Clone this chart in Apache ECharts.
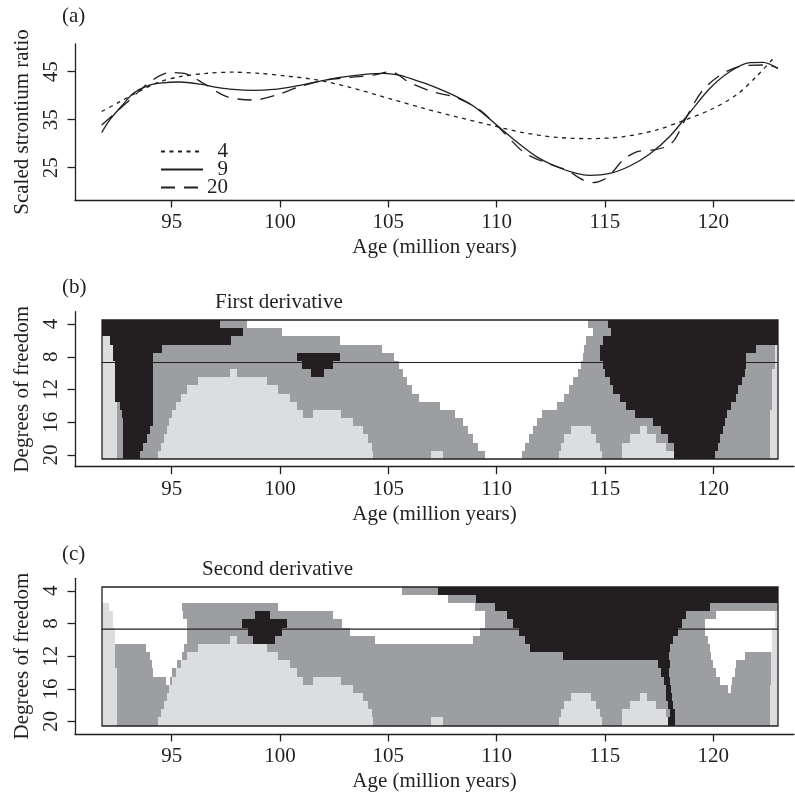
<!DOCTYPE html>
<html>
<head>
<meta charset="utf-8">
<script src="https://cdn.jsdelivr.net/npm/echarts@6/dist/echarts.min.js"></script>
<style>
html, body { margin: 0; padding: 0; background: #fff; }
#chart { width: 795px; height: 793px; }
</style>
</head>
<body>
<div id="chart"></div>
<script>
// axis ticks
var ageTicks = [95, 100, 105, 110, 115, 120];
var ratioTicks = [25, 35, 45];
var dfTicks = [4, 8, 12, 16, 20];
var dfRows = [4, 5, 6, 7, 8, 9, 10, 11, 12, 13, 14, 15, 16, 17, 18, 19, 20];
var chosenDf = 8.7;
var ageStart = 91.77, ageEnd = 122.99;

// panel (a): fits with 4, 9 and 20 degrees of freedom
var df4Age = [91.77, 92.61, 93.54, 94.46, 95.38, 96.61, 97.84, 99.07, 100.3, 101.69, 103.23, 105.2, 106.61, 108.15, 109.69, 111.23, 112.77, 114.3, 115.84, 117.38, 118.61, 119.84, 121.07, 121.99, 122.84];
var df4Ratio = [36.7, 38.75, 41.0, 42.9, 43.96, 44.65, 44.9, 44.65, 44.1, 43.3, 41.75, 39.2, 37.4, 35.6, 33.9, 32.3, 31.33, 31.05, 31.45, 32.85, 34.8, 37.0, 40.15, 43.96, 48.1];

var df9Age = [91.77, 92.15, 92.69, 93.23, 93.85, 94.46, 95.38, 96.31, 97.08, 97.84, 98.77, 99.69, 100.6, 101.69, 102.77, 104.0, 104.77, 105.5, 106.0, 106.92, 108.15, 109.07, 110.0, 110.92, 111.84, 112.77, 113.69, 114.3, 115.23, 116.15, 117.07, 117.99, 118.92, 119.84, 120.76, 121.69, 122.3, 122.99];
var df9Ratio = [32.3, 35.0, 37.85, 40.5, 42.0, 42.6, 42.85, 42.4, 41.75, 41.3, 41.1, 41.3, 41.9, 42.9, 43.8, 44.5, 44.65, 44.3, 43.6, 42.2, 39.8, 37.4, 33.9, 30.4, 27.3, 25.2, 23.8, 23.4, 23.8, 25.35, 27.85, 31.5, 36.5, 41.5, 45.0, 46.9, 46.95, 45.7];

var df20Age = [91.77, 92.46, 93.23, 94.0, 94.92, 95.69, 96.46, 97.54, 98.77, 99.85, 100.92, 102.15, 103.23, 104.3, 105.1, 106.0, 107.07, 108.15, 109.23, 110.3, 111.23, 112.15, 113.23, 113.99, 114.46, 114.92, 115.3, 115.84, 116.46, 117.23, 117.84, 118.23, 118.77, 119.53, 120.45, 121.38, 122.46, 122.99];
var df20Ratio = [33.9, 36.67, 39.8, 42.9, 44.8, 44.5, 42.6, 39.8, 39.1, 40.15, 41.9, 43.3, 43.8, 44.3, 45.0, 42.7, 40.8, 39.6, 37.0, 32.5, 28.3, 26.25, 24.5, 22.45, 21.9, 22.45, 23.8, 26.6, 28.3, 28.7, 29.4, 30.9, 35.6, 41.2, 44.65, 46.25, 46.4, 45.7];

// panels (b) and (c): one row per df, [shade, age where the run ends]
// W white, L light grey, G dark grey, K black
var firstDeriv = [
  [['K', 97.23], ['G', 98.46], ['W', 114.23], ['G', 115.15], ['K', 122.99]],
  [['K', 98.28], ['G', 100.08], ['W', 114.44], ['G', 115.3], ['K', 122.99]],
  [['L', 92.15], ['K', 97.72], ['G', 102.77], ['W', 114.11], ['G', 114.92], ['K', 122.99]],
  [['L', 92.28], ['K', 94.54], ['G', 104.69], ['W', 114.05], ['G', 114.76], ['K', 121.99], ['G', 122.84], ['L', 122.99]],
  [['L', 92.28], ['K', 94.15], ['G', 100.77], ['K', 102.77], ['G', 105.26], ['W', 113.97], ['G', 114.76], ['K', 121.53], ['G', 122.84], ['L', 122.99]],
  [['L', 92.38], ['K', 94.15], ['G', 101.0], ['K', 102.46], ['G', 105.49], ['W', 113.88], ['G', 114.92], ['K', 121.53], ['G', 122.84], ['L', 122.99]],
  [['L', 92.38], ['K', 94.15], ['G', 97.69], ['L', 98.03], ['G', 101.41], ['K', 102.03], ['G', 105.66], ['W', 113.77], ['G', 114.99], ['K', 121.45], ['G', 122.73], ['L', 122.99]],
  [['L', 92.38], ['K', 94.15], ['G', 96.23], ['L', 99.38], ['G', 105.85], ['W', 113.54], ['G', 115.25], ['K', 121.35], ['G', 122.73], ['L', 122.99]],
  [['L', 92.38], ['K', 94.15], ['G', 95.69], ['L', 99.92], ['G', 106.08], ['W', 113.35], ['G', 115.38], ['K', 121.15], ['G', 122.73], ['L', 122.99]],
  [['L', 92.38], ['K', 94.15], ['G', 95.41], ['L', 100.46], ['G', 106.42], ['W', 113.11], ['G', 115.68], ['K', 121.07], ['G', 122.73], ['L', 122.99]],
  [['L', 92.46], ['G', 92.61], ['K', 94.15], ['G', 95.2], ['L', 100.77], ['G', 107.39], ['W', 112.8], ['G', 115.99], ['K', 120.84], ['G', 122.73], ['L', 122.99]],
  [['L', 92.46], ['G', 92.69], ['K', 94.15], ['G', 95.0], ['L', 101.08], ['G', 101.51], ['L', 102.82], ['G', 108.08], ['W', 112.11], ['G', 116.38], ['K', 120.64], ['G', 122.61], ['L', 122.99]],
  [['L', 92.46], ['G', 92.77], ['K', 94.15], ['G', 94.88], ['L', 103.39], ['G', 108.46], ['W', 111.85], ['G', 117.22], ['K', 120.53], ['G', 122.61], ['L', 122.99]],
  [['L', 92.46], ['G', 92.77], ['K', 94.0], ['G', 94.77], ['L', 103.85], ['G', 108.66], ['W', 111.66], ['G', 113.43], ['L', 114.34], ['G', 116.61], ['L', 116.95], ['G', 117.61], ['K', 120.45], ['G', 122.61], ['L', 122.99]],
  [['L', 92.46], ['G', 92.77], ['K', 93.85], ['G', 94.65], ['L', 104.08], ['G', 108.89], ['W', 111.49], ['G', 113.11], ['L', 114.61], ['G', 116.15], ['L', 117.38], ['G', 117.92], ['K', 120.33], ['G', 122.61], ['L', 122.99]],
  [['L', 92.46], ['G', 92.77], ['K', 93.69], ['G', 94.49], ['L', 104.26], ['G', 109.12], ['W', 111.31], ['G', 112.97], ['L', 114.76], ['G', 115.79], ['L', 117.84], ['G', 118.18], ['K', 120.22], ['G', 122.61], ['L', 122.99]],
  [['L', 92.46], ['G', 92.77], ['K', 93.54], ['G', 94.38], ['L', 104.31], ['G', 106.97], ['L', 107.52], ['G', 109.46], ['W', 111.19], ['G', 112.88], ['L', 114.88], ['G', 115.79], ['L', 118.18], ['K', 120.07], ['G', 122.61], ['L', 122.99]]
];

var secondDeriv = [
  [['W', 105.62], ['G', 107.28], ['K', 122.99]],
  [['W', 107.77], ['G', 109.05], ['K', 122.99]],
  [['L', 92.12], ['W', 95.49], ['G', 99.92], ['W', 109.0], ['G', 109.92], ['K', 119.87], ['G', 122.99]],
  [['L', 92.28], ['W', 95.54], ['G', 98.85], ['K', 99.54], ['G', 102.43], ['W', 109.46], ['G', 110.46], ['K', 118.76], ['G', 120.15], ['W', 122.84], ['L', 122.99]],
  [['L', 92.28], ['W', 95.69], ['G', 98.26], ['K', 100.31], ['G', 102.85], ['W', 109.46], ['G', 110.77], ['K', 118.58], ['G', 119.61], ['W', 122.84], ['L', 122.99]],
  [['L', 92.38], ['W', 95.69], ['G', 98.54], ['K', 100.08], ['G', 103.23], ['W', 109.23], ['G', 111.03], ['K', 118.38], ['G', 119.61], ['W', 122.73], ['L', 122.99]],
  [['L', 92.38], ['W', 95.69], ['G', 97.69], ['L', 98.03], ['G', 98.77], ['K', 99.77], ['G', 104.39], ['W', 108.92], ['G', 111.31], ['K', 118.15], ['G', 119.76], ['W', 122.73], ['L', 122.99]],
  [['L', 92.38], ['G', 93.81], ['W', 95.58], ['G', 96.23], ['L', 99.38], ['G', 111.54], ['K', 117.99], ['G', 119.84], ['W', 122.73], ['L', 122.99]],
  [['L', 92.38], ['G', 94.0], ['W', 95.46], ['G', 95.69], ['L', 99.92], ['G', 113.05], ['K', 117.96], ['G', 119.92], ['W', 121.45], ['G', 122.68], ['L', 122.99]],
  [['L', 92.38], ['G', 94.08], ['W', 95.26], ['G', 95.41], ['L', 100.46], ['G', 117.45], ['K', 117.99], ['G', 119.99], ['W', 121.07], ['G', 122.68], ['L', 122.99]],
  [['L', 92.46], ['G', 94.15], ['W', 95.03], ['G', 95.2], ['L', 100.77], ['G', 117.61], ['K', 117.96], ['G', 120.15], ['W', 120.99], ['G', 122.68], ['L', 122.99]],
  [['L', 92.46], ['G', 94.74], ['W', 94.92], ['G', 95.0], ['L', 101.08], ['G', 101.51], ['L', 102.82], ['G', 117.72], ['K', 117.99], ['G', 120.3], ['W', 120.88], ['G', 122.68], ['L', 122.99]],
  [['L', 92.46], ['G', 94.88], ['L', 103.39], ['G', 117.81], ['K', 118.07], ['G', 120.68], ['W', 120.84], ['G', 122.61], ['L', 122.99]],
  [['L', 92.46], ['G', 94.77], ['L', 103.85], ['G', 113.43], ['L', 114.34], ['G', 116.61], ['L', 116.95], ['G', 117.84], ['K', 118.12], ['G', 122.61], ['L', 122.99]],
  [['L', 92.46], ['G', 94.65], ['L', 104.08], ['G', 113.11], ['L', 114.61], ['G', 116.15], ['L', 117.38], ['G', 117.92], ['K', 118.15], ['G', 122.61], ['L', 122.99]],
  [['L', 92.46], ['G', 94.49], ['L', 104.26], ['G', 112.97], ['L', 114.76], ['G', 115.79], ['L', 117.84], ['G', 117.99], ['K', 118.22], ['G', 122.61], ['L', 122.99]],
  [['L', 92.46], ['G', 94.38], ['L', 104.31], ['G', 106.97], ['L', 107.52], ['G', 112.88], ['L', 114.88], ['G', 115.79], ['L', 117.9], ['K', 118.23], ['G', 122.61], ['L', 122.99]]
];

var shadeCodes = ['W', 'L', 'G', 'K'];
var shadeColors = ['#ffffff', '#dcdddf', '#9d9ea2', '#231f20'];
var ink = '#231f20';
var font = 'Liberation Serif';

function zip(xs, ys) {
    return xs.map(function (x, i) { return [x, ys[i]]; });
}

// expand run lists into [from, to, df, shade] cells
function toCells(rows) {
    var out = [];
    rows.forEach(function (row, i) {
        var from = ageStart;
        row.forEach(function (seg) {
            out.push([from, seg[1], dfRows[i], shadeCodes.indexOf(seg[0])]);
            from = seg[1];
        });
    });
    return out;
}

// cells snapped to whole pixels so neighbouring rows leave no seams
function renderCell(params, api) {
    var a = api.coord([api.value(0), api.value(2) - 0.5]);
    var b = api.coord([api.value(1), api.value(2) + 0.5]);
    var x0 = Math.round(a[0]), x1 = Math.round(b[0]);
    var y0 = Math.round(Math.min(a[1], b[1])), y1 = Math.round(Math.max(a[1], b[1]));
    return {
        type: 'rect',
        shape: { x: x0, y: y0, width: x1 - x0, height: y1 - y0 },
        style: { fill: shadeColors[api.value(3)] }
    };
}

function renderFrame(params, api) {
    var a = api.coord([api.value(0), api.value(2)]);
    var b = api.coord([api.value(1), api.value(3)]);
    var l = api.coord([api.value(0), api.value(4)]);
    return {
        type: 'group',
        children: [{
            type: 'rect',
            shape: { x: Math.round(a[0]), y: Math.round(a[1]), width: Math.round(b[0]) - Math.round(a[0]), height: Math.round(b[1]) - Math.round(a[1]) },
            style: { fill: null, stroke: ink, lineWidth: 1.3 }
        }, {
            type: 'line',
            shape: { x1: a[0], y1: l[1], x2: b[0], y2: l[1] },
            style: { stroke: ink, lineWidth: 1.2 }
        }]
    };
}

var txt = { fontFamily: font, fontSize: 21, color: ink };

function ageAxis(idx) {
    return {
        gridIndex: idx, type: 'value', min: 90.538, max: 123.73,
        name: 'Age (million years)', nameLocation: 'middle', nameGap: 37,
        nameTextStyle: txt,
        axisLine: { show: true, onZero: false, lineStyle: { color: ink, width: 1.3 } },
        axisTick: { show: true, length: 7.5, customValues: ageTicks, lineStyle: { color: ink, width: 1.3 } },
        axisLabel: { customValues: ageTicks, margin: 12, fontFamily: font, fontSize: 21, color: ink },
        splitLine: { show: false }
    };
}

function leftAxis(idx, name, min, max, ticks, inverse) {
    return {
        gridIndex: idx, type: 'value', min: min, max: max, inverse: inverse,
        name: name, nameLocation: 'middle', nameGap: 42,
        nameTextStyle: txt,
        axisLine: { show: true, onZero: false, lineStyle: { color: ink, width: 1.3 } },
        axisTick: { show: true, length: 7.5, customValues: ticks, lineStyle: { color: ink, width: 1.3 } },
        axisLabel: { customValues: ticks, rotate: 90, margin: 13, fontFamily: font, fontSize: 21, color: ink },
        splitLine: { show: false }
    };
}

function fitSeries(name, xs, ys, dash) {
    return {
        name: name, type: 'line', xAxisIndex: 0, yAxisIndex: 0,
        data: zip(xs, ys), symbol: 'none', smooth: 0.3,
        lineStyle: { color: ink, width: 1.3, type: dash }
    };
}

var chart = echarts.init(document.getElementById('chart'));

var titleText = { fontFamily: font, fontSize: 21, fontWeight: 'normal', color: ink };

var option = {
    animation: false,
    backgroundColor: '#fff',
    title: [
        { text: '(a)', left: 62, top: 6, padding: 0, textStyle: titleText },
        { text: '(b)', left: 62, top: 277, padding: 0, textStyle: titleText },
        { text: 'First derivative', left: 215, top: 292, padding: 0, textStyle: titleText },
        { text: '(c)', left: 62, top: 544, padding: 0, textStyle: titleText },
        { text: 'Second derivative', left: 202, top: 559, padding: 0, textStyle: titleText }
    ],
    legend: {
        data: ['4', '9', '20'],
        orient: 'vertical', left: 160, top: 141, padding: 0,
        itemWidth: 42, itemHeight: 14, itemGap: -3,
        selectedMode: false,
        itemStyle: { opacity: 0 },
        formatter: function (name) { return '{r|' + name + '}'; },
        textStyle: {
            fontFamily: font, fontSize: 21, color: ink, lineHeight: 18,
            rich: { r: { width: 20, align: 'right', fontFamily: font, fontSize: 21, color: ink, lineHeight: 18 } }
        }
    },
    grid: [
        { left: 75, right: 1, top: 44, height: 156 },
        { left: 75, right: 1, top: 311.7, height: 155 },
        { left: 75, right: 1, top: 578.3, height: 155.7 }
    ],
    xAxis: [ageAxis(0), ageAxis(1), ageAxis(2)],
    yAxis: [
        leftAxis(0, 'Scaled strontium ratio', 18.27, 50.77, ratioTicks, false),
        leftAxis(1, 'Degrees of freedom', 2.485, 21.44, dfTicks, true),
        leftAxis(2, 'Degrees of freedom', 2.47, 21.52, dfTicks, true)
    ],
    series: [
        fitSeries('4', df4Age, df4Ratio, [4, 4.5]),
        fitSeries('9', df9Age, df9Ratio, 'solid'),
        fitSeries('20', df20Age, df20Ratio, [14, 9]),
        {
            type: 'custom', xAxisIndex: 1, yAxisIndex: 1, renderItem: renderCell,
            encode: { x: [0, 1], y: 2 }, data: toCells(firstDeriv), silent: true
        },
        {
            type: 'custom', xAxisIndex: 1, yAxisIndex: 1, renderItem: renderFrame, z: 3,
            encode: { x: [0, 1], y: [2, 3] }, data: [[ageStart, ageEnd, 3.5, 20.5, chosenDf]], silent: true
        },
        {
            type: 'custom', xAxisIndex: 2, yAxisIndex: 2, renderItem: renderCell,
            encode: { x: [0, 1], y: 2 }, data: toCells(secondDeriv), silent: true
        },
        {
            type: 'custom', xAxisIndex: 2, yAxisIndex: 2, renderItem: renderFrame, z: 3,
            encode: { x: [0, 1], y: [2, 3] }, data: [[ageStart, ageEnd, 3.5, 20.5, chosenDf]], silent: true
        }
    ]
};

chart.setOption(option);
</script>
</body>
</html>
